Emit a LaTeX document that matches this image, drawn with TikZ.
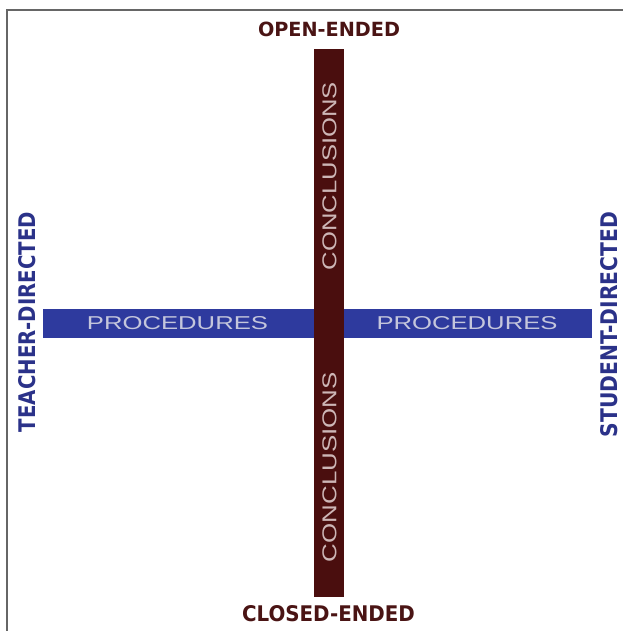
\documentclass[tikz,border=0pt]{standalone}
\usepackage{fontspec}
\setmainfont{DejaVu Sans}
\newfontfamily\barfont{Liberation Sans}
\newfontfamily\labfont{DejaVu Sans}
\definecolor{maroon}{HTML}{4A0E0E}
\definecolor{barblue}{HTML}{2E3A9E}
\definecolor{labblue}{HTML}{2B3289}
\definecolor{labmaroon}{HTML}{4A1414}
\definecolor{bartextb}{HTML}{C4C6DC}
\definecolor{bartextm}{HTML}{CDB6B6}
\begin{document}
\begin{tikzpicture}[x=1pt,y=-1pt,
  txt/.style={inner sep=0pt, outer sep=0pt},
  lab/.style={txt, font=\labfont\bfseries},
  bartxt/.style={txt, font=\barfont}]
\useasboundingbox (0,0) rectangle (623,631);
% frame
\draw[line width=2pt, gray!80!black] (7,631) -- (7,10) -- (623,10);
% bars
\fill[barblue] (43,309) rectangle (592,338);
\fill[maroon] (314,49) rectangle (344,597);
% bar texts
\node[bartxt, text=bartextb] (p1) at (177.5,323.5) {\resizebox{181pt}{13pt}{PROCEDURES}};
\node[bartxt, text=bartextb] (p2) at (467,323.5) {\resizebox{181pt}{13pt}{PROCEDURES}};
\node[bartxt, text=bartextm, rotate=90] (c1) at (329.5,176) {\resizebox{188pt}{14pt}{CONCLUSIONS}};
\node[bartxt, text=bartextm, rotate=90] (c2) at (329.5,467) {\resizebox{190pt}{14pt}{CONCLUSIONS}};
% labels
\node[lab, text=labmaroon] (open) at (329,29.5) {\resizebox{142pt}{14.5pt}{OPEN-ENDED}};
\node[lab, text=labmaroon] (closed) at (328.5,613.5) {\resizebox{173pt}{16pt}{CLOSED-ENDED}};
\node[lab, text=labblue, rotate=90] (teacher) at (27,322) {\resizebox{220pt}{17pt}{TEACHER-DIRECTED}};
\node[lab, text=labblue, rotate=90] (student) at (609,324.5) {\resizebox{225pt}{17pt}{STUDENT-DIRECTED}};
\end{tikzpicture}
\end{document}
